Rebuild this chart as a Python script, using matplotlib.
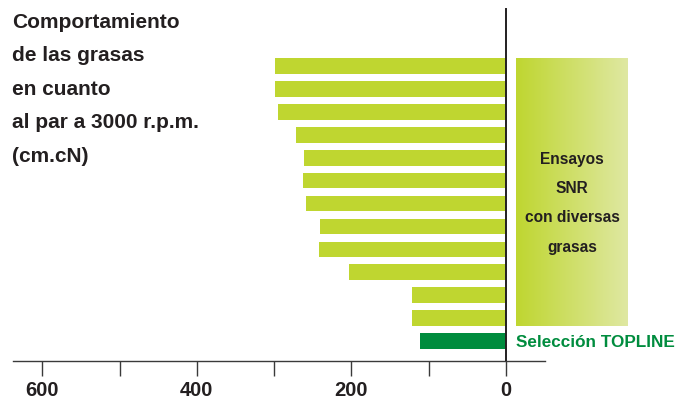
import numpy as np
import matplotlib
matplotlib.use("Agg")
import matplotlib.pyplot as plt
from matplotlib.ticker import FixedLocator, NullFormatter

# Torque values (cm.cN) at 3000 r.p.m., one bar per tested grease
greases = [f"Grasa {i}" for i in range(1, 13)] + ["Selección TOPLINE"]
torque = [299, 299, 295, 272, 261, 263, 259, 241, 242, 203, 122, 122, 111]

major_ticks = [600, 400, 200, 0]
minor_ticks = [500, 300, 100]

title_lines = ["Comportamiento", "de las grasas", "en cuanto",
               "al par a 3000 r.p.m.", "(cm.cN)"]
box_lines = ["Ensayos", "SNR", "con diversas", "grasas"]
topline_label = "Selección TOPLINE"

LIME = "#bfd630"
LIME_PALE = "#dfe8a2"
DARK_GREEN = "#008c3e"
INK = "#231f20"

plain = ["Liberation Sans", "DejaVu Sans"]

fig = plt.figure(figsize=(6.76, 4.02), dpi=100)
ax = fig.add_axes([0, 0.1007, 1, 0.8993])

n = len(torque)
y = np.arange(n)
colors = [LIME] * (n - 1) + [DARK_GREEN]
ax.barh(y, torque, height=0.685, color=colors, linewidth=0, zorder=2)

# Gradient panel next to the SNR test bars
grad = np.linspace(0, 1, 256)[None, :, None]
c0 = np.array(matplotlib.colors.to_rgb(LIME))
c1 = np.array(matplotlib.colors.to_rgb(LIME_PALE))
img = c0 + (c1 - c0) * grad
ax.imshow(img, extent=(-13.5, -157.3, 11.34, -0.34), aspect="auto",
          interpolation="bilinear", zorder=1)
for i, line in enumerate(box_lines):
    ax.text(-85.4, 4.02 + 1.28 * i, line, ha="center", va="center",
            fontsize=11.2, fontweight="bold", family=plain, color=INK, zorder=3)
ax.text(-12.5, n - 1, topline_label, ha="left", va="center", fontsize=12.3,
        fontweight="bold", family=plain, color=DARK_GREEN, zorder=3)

# Zero reference line
ax.axvline(0, ymin=0, ymax=0.972, color=INK, linewidth=1.4, zorder=4)

ax.set_xlim(654.6, -219.9)
ax.set_ylim(12.85, -2.923)

for s in ["top", "right", "left"]:
    ax.spines[s].set_visible(False)
ax.spines["bottom"].set_bounds(638.4, -49.9)
ax.spines["bottom"].set_color("#3a3a3a")
ax.spines["bottom"].set_linewidth(1.0)
ax.yaxis.set_visible(False)

ax.xaxis.set_major_locator(FixedLocator(major_ticks))
ax.xaxis.set_minor_locator(FixedLocator(minor_ticks))
ax.xaxis.set_minor_formatter(NullFormatter())
ax.tick_params(axis="x", which="both", direction="out", length=11,
               width=1.0, color="#3a3a3a")
ax.tick_params(axis="x", which="major", pad=3, labelsize=14.5, labelcolor=INK)
for lbl in ax.get_xticklabels():
    lbl.set_fontfamily(plain)
    lbl.set_fontweight("bold")

# Multi-line heading in the upper left corner
for i, line in enumerate(title_lines):
    fig.text(12 / 676, 1 - (22 + 33.6 * i) / 402, line, ha="left", va="center",
             fontsize=15, fontweight="bold", family=plain, color=INK)

fig.savefig("out.png", dpi=100, facecolor="white")
